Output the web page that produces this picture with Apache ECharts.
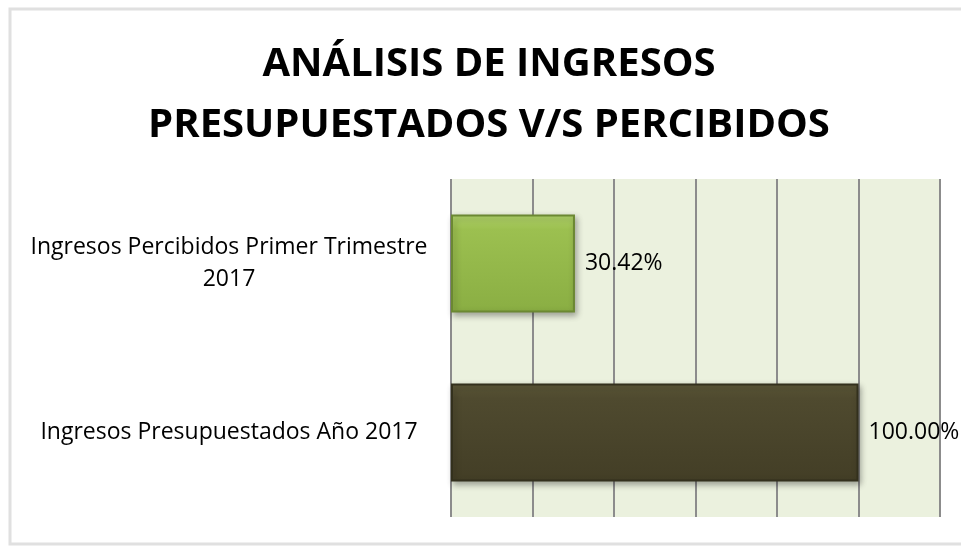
<!DOCTYPE html>
<html>
<head>
<meta charset="utf-8">
<script src="https://cdn.jsdelivr.net/npm/echarts@6/dist/echarts.min.js"></script>
<style>
  html, body { margin: 0; padding: 0; background: #fff; }
  #chart { width: 961px; height: 546px; }
</style>
</head>
<body>
<div id="chart"></div>
<script>
// Chart data
const categories = ['Ingresos Presupuestados Año 2017', 'Ingresos Percibidos Primer Trimestre 2017'];
const values = [1.0, 0.3042];
const barColors = [
    { top: '#5e5939', mid: '#4f4a2f', bottom: '#433e26', border: '#33301d' },
    { top: '#b3d66c', mid: '#9cc050', bottom: '#8aae43', border: '#6b8832' }
];
const titleLines = ['ANÁLISIS DE INGRESOS', 'PRESUPUESTADOS V/S PERCIBIDOS'];

const chart = echarts.init(document.getElementById('chart'));

const option = {
    backgroundColor: '#fff',
    graphic: [{
        type: 'rect',
        shape: { x: 10, y: 9, width: 960, height: 535 },
        style: { fill: 'none', stroke: '#e0e0e0', lineWidth: 3 },
        silent: true
    }],
    title: {
        text: titleLines.join('\n'),
        left: 484,
        textAlign: 'center',
        top: 29,
        textStyle: {
            fontFamily: 'Open Sans',
            fontWeight: 'bold',
            fontSize: 40,
            lineHeight: 61,
            color: '#000'
        }
    },
    grid: {
        left: 451,
        right: 21,
        top: 179,
        bottom: 29,
        show: true,
        backgroundColor: '#ebf1de',
        borderWidth: 0
    },
    xAxis: {
        type: 'value',
        min: 0,
        max: 1.2,
        interval: 0.2,
        axisLine: { show: false },
        axisTick: { show: false },
        axisLabel: { show: false },
        splitLine: { show: true, lineStyle: { color: '#8c8c8c', width: 2 } }
    },
    yAxis: {
        type: 'category',
        data: categories,
        axisLine: { show: false },
        axisTick: { show: false },
        axisLabel: {
            margin: 222,
            align: 'center',
            fontFamily: 'Open Sans',
            fontSize: 23,
            lineHeight: 32,
            color: '#000',
            formatter: v => v.replace('Trimestre ', 'Trimestre\n')
        }
    },
    series: [{
        type: 'bar',
        barCategoryGap: '42%',
        data: values.map((v, i) => ({
            value: v,
            itemStyle: {
                color: new echarts.graphic.LinearGradient(0, 0, 0, 1, [
                    { offset: 0, color: barColors[i].top },
                    { offset: 0.15, color: barColors[i].mid },
                    { offset: 1, color: barColors[i].bottom }
                ]),
                borderColor: barColors[i].border,
                borderWidth: 2,
                shadowColor: 'rgba(0,0,0,0.3)',
                shadowBlur: 6,
                shadowOffsetX: 2,
                shadowOffsetY: 3
            }
        })),
        label: {
            show: true,
            position: 'right',
            distance: 10,
            fontFamily: 'Open Sans',
            fontSize: 23,
            color: '#000',
            formatter: p => (p.value * 100).toFixed(2) + '%'
        }
    }]
};

chart.setOption(option);
</script>
</body>
</html>
